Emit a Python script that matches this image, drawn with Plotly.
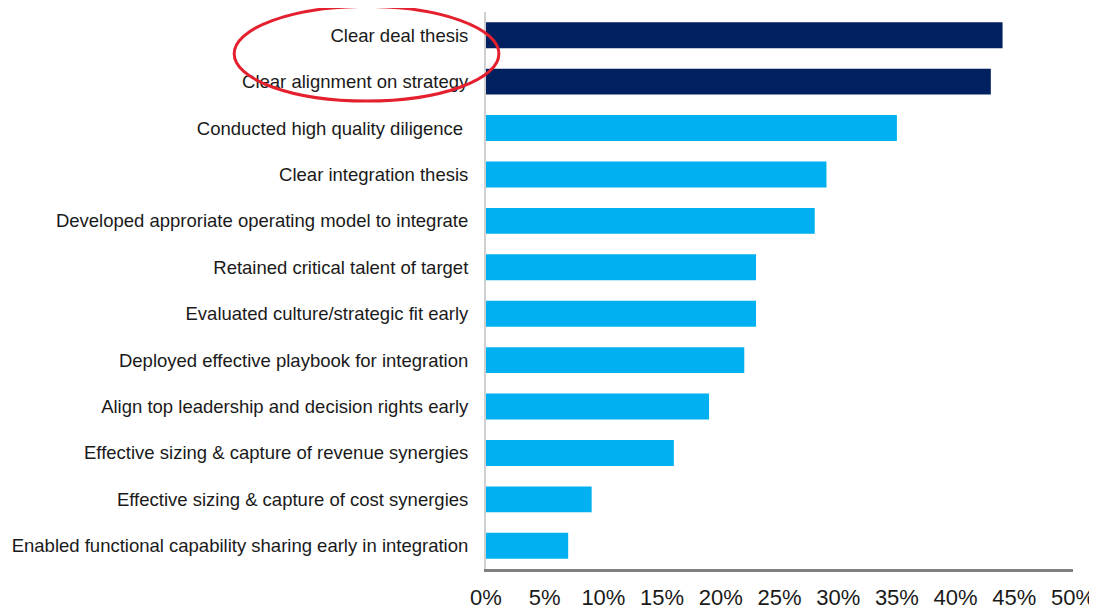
import plotly.graph_objects as go

categories = [
    "Clear deal thesis",
    "Clear alignment on strategy",
    "Conducted high quality diligence ",
    "Clear integration thesis",
    "Developed approriate operating model to integrate",
    "Retained critical talent of target",
    "Evaluated culture/strategic fit early",
    "Deployed effective playbook for integration",
    "Align top leadership and decision rights early",
    "Effective sizing & capture of revenue synergies",
    "Effective sizing & capture of cost synergies",
    "Enabled functional capability sharing early in integration",
]
values = [44, 43, 35, 29, 28, 23, 23, 22, 19, 16, 9, 7]
highlighted = [True, True] + [False] * 10
tick_vals = [0, 5, 10, 15, 20, 25, 30, 35, 40, 45, 50]
tick_text = [f"{v}%" for v in tick_vals]

colors = ["#002060" if h else "#00B0F0" for h in highlighted]

fig = go.Figure(go.Bar(
    x=values, y=categories, orientation="h",
    marker=dict(color=colors, line=dict(width=0)),
    hoverinfo="x+y",
))

# page body has an 8px margin, so the figure is offset by 8px
fig.update_layout(
    width=1089, height=601,
    margin=dict(l=478, r=24, t=4, b=40, autoexpand=False),
    paper_bgcolor="white", plot_bgcolor="white",
    bargap=0.44,
    showlegend=False,
    font=dict(family="Liberation Sans, Arial, sans-serif", color="#1a1a1a"),
    xaxis=dict(
        range=[0, 50], tickvals=tick_vals, ticktext=tick_text,
        showgrid=False, zeroline=False, automargin=False,
        showline=True, linecolor="#808080", linewidth=3,
        ticks="", tickfont=dict(size=22, color="#1a1a1a"),
        ticklabelstandoff=7,
    ),
    yaxis=dict(
        autorange="reversed", showgrid=False, zeroline=False, automargin=False,
        showline=True, linecolor="#d0d0d0", linewidth=2,
        ticks="", tickfont=dict(size=18.5, color="#1a1a1a"),
        ticklabelstandoff=12,
    ),
    shapes=[dict(
        type="circle", xref="paper", yref="paper",
        x0=-0.429, x1=0.022, y0=0.84, y1=1.01,
        line=dict(color="#E5202E", width=3),
    )],
)

fig.write_html("out.html")
